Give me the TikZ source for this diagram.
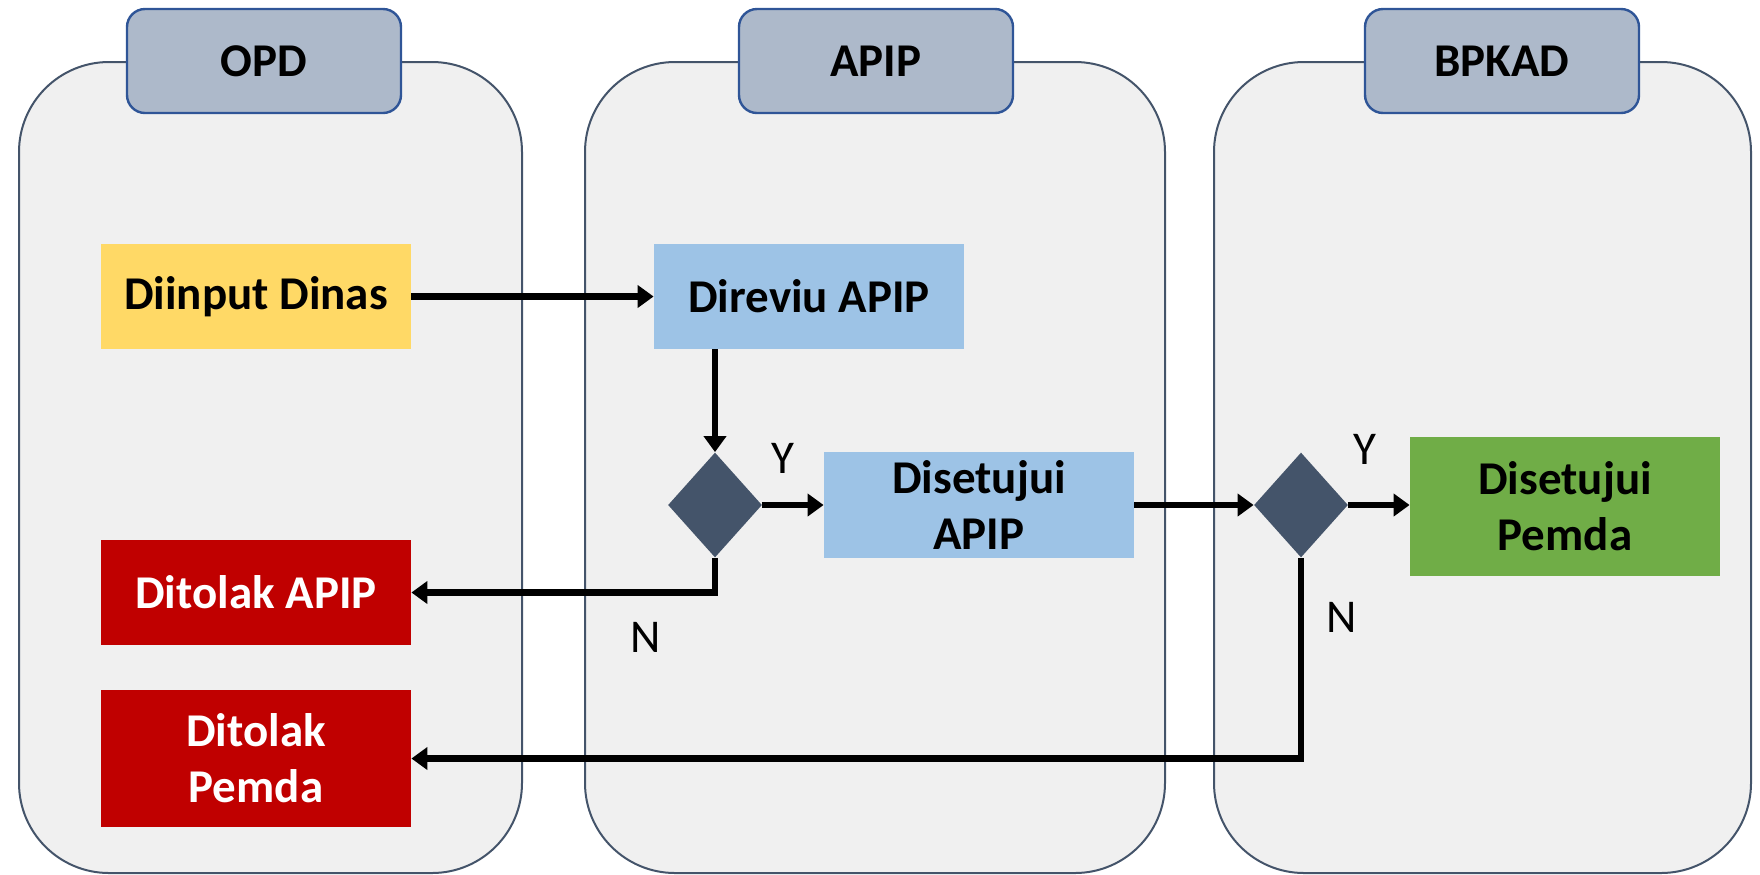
\documentclass[tikz,border=0pt]{standalone}
\usepackage{fontspec}
\setmainfont{Carlito}
\usetikzlibrary{shapes.geometric,arrows.meta}
\definecolor{lanefill}{HTML}{F0F0F0}
\definecolor{laneline}{HTML}{44546A}
\definecolor{tabfill}{HTML}{ADB9CA}
\definecolor{tabline}{HTML}{2F5597}
\definecolor{cyellow}{HTML}{FFD966}
\definecolor{cblue}{HTML}{9DC3E6}
\definecolor{cgreen}{HTML}{70AD47}
\definecolor{cred}{HTML}{C00000}
\definecolor{cdia}{HTML}{44546A}
\tikzset{
  lane/.style={fill=lanefill,draw=laneline,line width=1pt,rounded corners=45pt},
  tabbox/.style={fill=tabfill,draw=tabline,line width=1.2pt,rounded corners=9pt,
    minimum width=137pt,minimum height=52pt,inner sep=0pt,
    font=\fontsize{23.5}{28}\selectfont\bfseries},
  procbox/.style={minimum width=155pt,minimum height=52.5pt,inner sep=0pt,
    align=center,font=\fontsize{23.5}{28}\selectfont\bfseries},
  dia/.style={diamond,fill=cdia,inner sep=0pt,minimum width=47pt,minimum height=52.5pt},
  arr/.style={line width=3.4pt,-{Triangle[length=8pt,width=11pt]}},
  lbl/.style={font=\fontsize{23.5}{28}\selectfont,inner sep=0pt}
}
\begin{document}
\begin{tikzpicture}[x=0.5pt,y=-0.5pt]
\useasboundingbox (0,0) rectangle (1760,874);
% lanes
\path[lane] (19,62) rectangle (522,873);
\path[lane] (585,62) rectangle (1165,873);
\path[lane] (1214,62) rectangle (1751,873);
% tabs
\node[tabbox] (tOPD) at (264,61) {OPD};
\node[tabbox] (tAPIP) at (876,61) {APIP};
\node[tabbox] (tBPKAD) at (1502,61) {BPKAD};
% process boxes
\node[procbox,fill=cyellow] (inp) at (256,296.5) {Diinput Dinas};
\node[procbox,fill=cblue] (rev) at (809,296.5) {Direviu APIP};
\node[procbox,fill=cblue,minimum height=53pt] (okA) at (979,505) {Disetujui\\APIP};
\node[procbox,fill=cgreen,minimum height=69.5pt] (okP) at (1565,506.5) {Disetujui\\Pemda};
\node[procbox,fill=cred,text=white] (noA) at (256,592.5) {Ditolak APIP};
\node[procbox,fill=cred,text=white,minimum height=68.5pt] (noP) at (256,758.5) {Ditolak\\Pemda};
% decisions
\node[dia] (d1) at (715,505) {};
\node[dia] (d2) at (1301,505) {};
% labels
\node[lbl] (y1) at (783,458) {Y};
\node[lbl] (n1) at (646,637) {N};
\node[lbl] (y2) at (1365,449) {Y};
\node[lbl] (n2) at (1342,617) {N};
% connectors
\draw[arr] (inp.east) -- (rev.west);
\draw[arr] (d1 |- rev.south) -- (d1.north);
\draw[arr] (d1.east) -- (okA.west);
\draw[arr] (okA.east) -- (d2.west);
\draw[arr] (d2.east) -- (d2.east -| okP.west);
\draw[arr] (d1.south) |- (noA.east);
\draw[arr] (d2.south) |- (noP.east);
\end{tikzpicture}
\end{document}
